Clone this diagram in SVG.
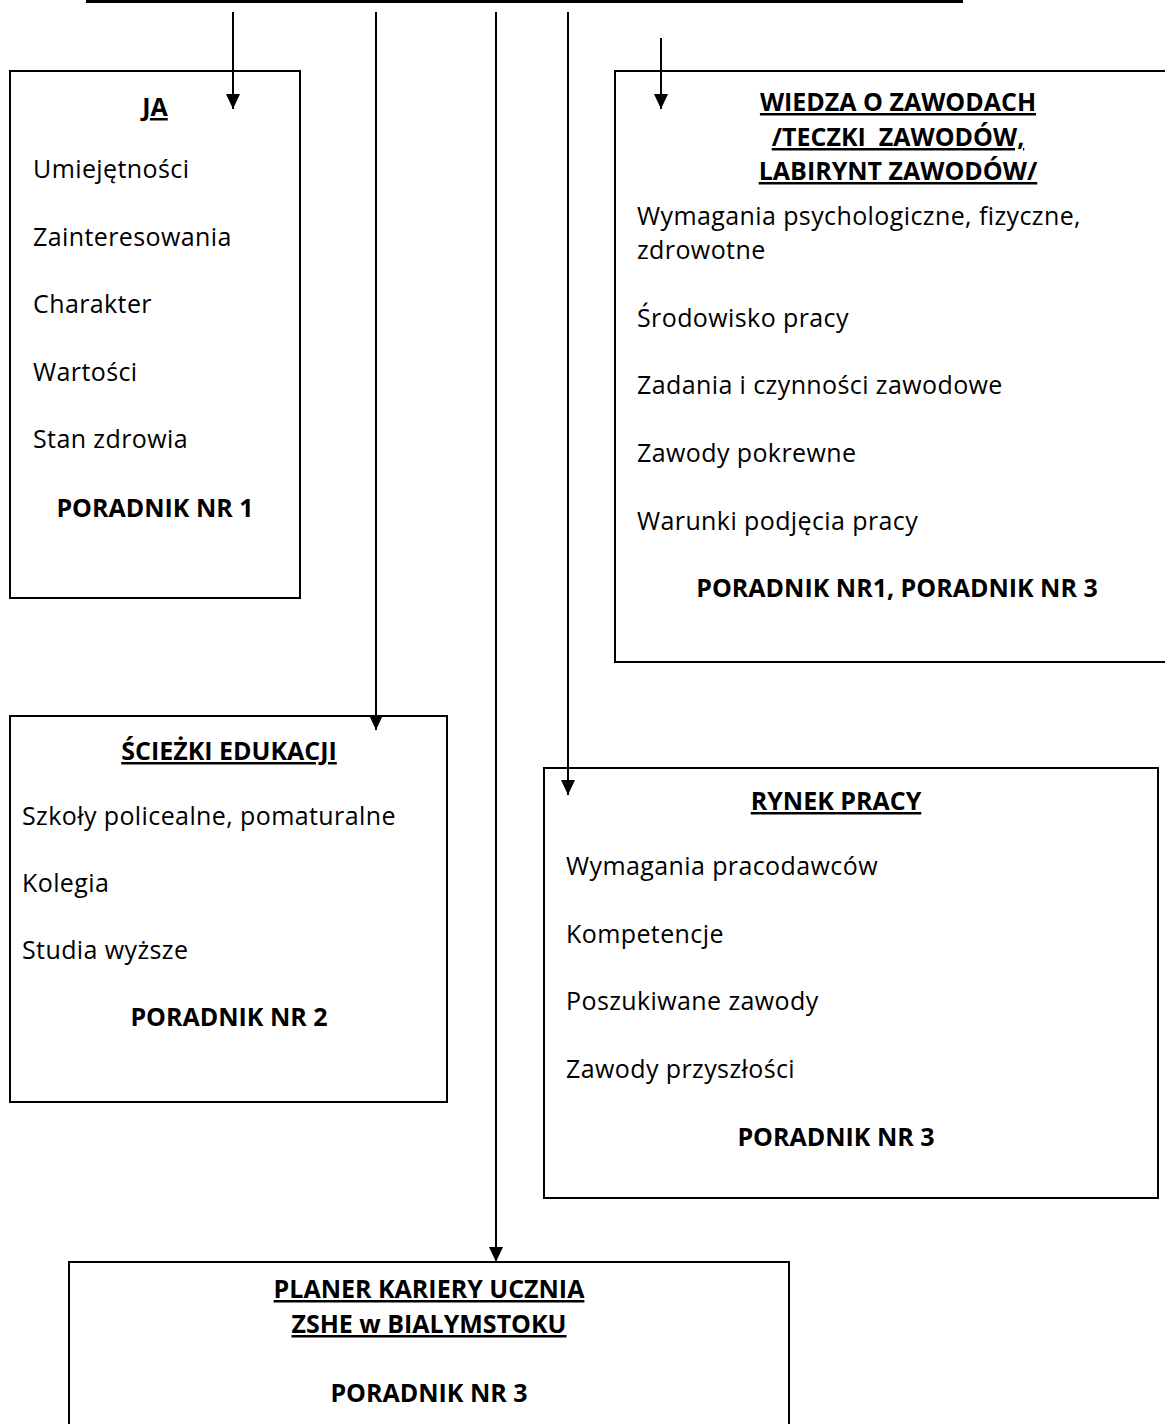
<svg xmlns="http://www.w3.org/2000/svg" width="1165" height="1424" viewBox="0 0 1165 1424">
<style>
text{font-family:"Open Sans",Lato,"Liberation Sans",sans-serif;font-size:25px;letter-spacing:0.4px;fill:#000}
.b{font-weight:bold;letter-spacing:0}
.u{text-decoration:underline}
.c{text-anchor:middle}
.box{fill:#fff;stroke:#000;stroke-width:2}
.con{stroke:#000;stroke-width:2;fill:none}
</style>
<defs>
<marker id="ah" markerUnits="userSpaceOnUse" markerWidth="15" markerHeight="14" refX="15" refY="7" orient="auto" viewBox="0 0 15 14">
<path d="M0,0 L15,7 L0,14 Z" fill="#000"/>
</marker>
</defs>
<rect x="0" y="0" width="1165" height="1424" fill="#fff"/>
<g id="ja">
<rect class="box" x="10" y="71" width="290" height="527"/>
<text class="b u c" x="155" y="116">JA</text>
<text x="33" y="178">Umiejętności</text>
<text x="33" y="246">Zainteresowania</text>
<text x="33" y="313">Charakter</text>
<text x="33" y="381">Wartości</text>
<text x="33" y="448">Stan zdrowia</text>
<text class="b c" x="155" y="517">PORADNIK NR 1</text>
</g>
<g id="wiedza">
<rect class="box" x="615" y="71" width="560" height="591"/>
<text class="b u c" x="898" y="111">WIEDZA O ZAWODACH</text>
<text class="b u c" x="898" y="146" xml:space="preserve">/TECZKI  ZAWODÓW,</text>
<text class="b u c" x="898" y="180">LABIRYNT ZAWODÓW/</text>
<text x="637" y="225">Wymagania psychologiczne, fizyczne,</text>
<text x="637" y="259">zdrowotne</text>
<text x="637" y="327">Środowisko pracy</text>
<text x="637" y="394">Zadania i czynności zawodowe</text>
<text x="637" y="462">Zawody pokrewne</text>
<text x="637" y="530">Warunki podjęcia pracy</text>
<text class="b c" x="897" y="597">PORADNIK NR1, PORADNIK NR 3</text>
</g>
<g id="sciezki">
<rect class="box" x="10" y="716" width="437" height="386"/>
<text class="b u c" x="229" y="760">ŚCIEŻKI EDUKACJI</text>
<text x="22" y="825">Szkoły policealne, pomaturalne</text>
<text x="22" y="892">Kolegia</text>
<text x="22" y="959">Studia wyższe</text>
<text class="b c" x="229" y="1026">PORADNIK NR 2</text>
</g>
<g id="rynek">
<rect class="box" x="544" y="768" width="614" height="430"/>
<text class="b u c" x="836" y="810">RYNEK PRACY</text>
<text x="566" y="875">Wymagania pracodawców</text>
<text x="566" y="943">Kompetencje</text>
<text x="566" y="1010">Poszukiwane zawody</text>
<text x="566" y="1078">Zawody przyszłości</text>
<text class="b c" x="836" y="1146">PORADNIK NR 3</text>
</g>
<g id="planer">
<rect class="box" x="69" y="1262" width="720" height="180"/>
<text class="b u c" x="429" y="1298">PLANER KARIERY UCZNIA</text>
<text class="b u c" x="429" y="1333">ZSHE w BIALYMSTOKU</text>
<text class="b c" x="429" y="1402">PORADNIK NR 3</text>
</g>
<g id="connectors">
<rect x="86" y="0" width="877" height="3" fill="#000"/>
<line class="con" x1="233" y1="12" x2="233" y2="109" marker-end="url(#ah)"/>
<line class="con" x1="376" y1="12" x2="376" y2="730" marker-end="url(#ah)"/>
<line class="con" x1="496" y1="12" x2="496" y2="1262" marker-end="url(#ah)"/>
<line class="con" x1="568" y1="12" x2="568" y2="795" marker-end="url(#ah)"/>
<line class="con" x1="661" y1="38" x2="661" y2="109" marker-end="url(#ah)"/>
</g>
</svg>
